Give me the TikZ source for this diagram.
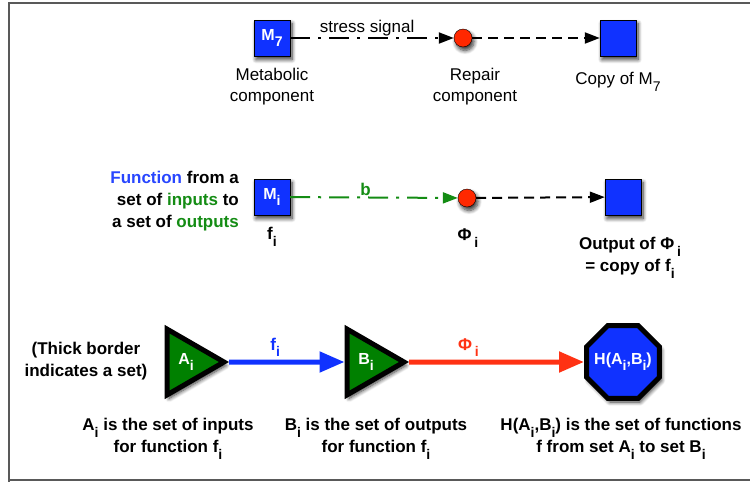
\documentclass[tikz,border=0pt]{standalone}
\usepackage{fontspec}
\setmainfont{Liberation Sans}
\usetikzlibrary{arrows.meta,shapes.geometric,shadows.blur,positioning}
\definecolor{compblue}{RGB}{16,50,255}
\definecolor{textblue}{RGB}{40,70,255}
\definecolor{repairred}{RGB}{255,40,0}
\definecolor{arrowred}{RGB}{255,50,20}
\definecolor{setgreen}{RGB}{0,128,0}
\definecolor{textgreen}{RGB}{20,140,20}
\definecolor{framegray}{gray}{0.35}
\newcommand{\lowsub}[1]{\raisebox{-0.38em}{\fontsize{14}{14}\selectfont #1}}
\tikzset{
  shade/.style={blur shadow={shadow blur steps=8,shadow blur radius=4pt,shadow xshift=2pt,shadow yshift=-3.5pt,shadow opacity=80}},
  comp/.style={draw=black,fill=compblue,minimum size=36pt,inner sep=0pt,text=white,
    font=\bfseries\fontsize{16}{16}\selectfont,shade},
  repair/.style={circle,draw=black,fill=repairred,minimum size=18pt,inner sep=0pt,shade},
  setnode/.style={regular polygon,regular polygon sides=3,shape border rotate=-90,
    draw=black,line width=5pt,fill=setgreen,minimum size=76pt,inner sep=0pt,text=white,
    font=\bfseries\fontsize{16}{16}\selectfont,shade},
  funcset/.style={regular polygon,regular polygon sides=8,draw=black,line width=5pt,
    fill=compblue,minimum size=79pt,inner sep=0pt,shade},
  lbl/.style={font=\fontsize{17}{21}\selectfont,align=center,inner sep=1pt},
  blbl/.style={font=\bfseries\fontsize{17}{22}\selectfont,align=center,inner sep=1pt},
  tip/.style={-{Triangle[length=15pt,width=11pt]}},
  sig/.style={tip,line width=2pt,dash pattern=on 20pt off 8pt on 3pt off 8pt},
  copyline/.style={tip,line width=2pt,dash pattern=on 10pt off 6pt},
  maparrow/.style={-{Triangle[length=25pt,width=20pt]},line width=5pt}
}
\begin{document}
\begin{tikzpicture}[x=1pt,y=-1pt]
\useasboundingbox (0,0) rectangle (750,482);
% frame
\draw[framegray,line width=2pt] (750,2.5) -- (8.5,2.5) -- (8.5,482);
\draw[framegray,line width=2pt] (8.5,480) -- (750,480);

% top row
\node[comp] (M7) at (272,38) {M\lowsub{7}};
\node[repair] (R7) at (463,38) {};
\node[comp] (C7) at (618,38) {};
\draw[sig] (M7) -- node[lbl,above,pos=0.47] {stress signal} (R7);
\draw[copyline] (R7) -- (C7);
\node[lbl] at (272,87) {Metabolic\\component};
\node[lbl] at (475,87) {Repair\\component};
\node[lbl] at (618,82) {Copy of M\lowsub{7}};

% middle row
\node[comp] (Mi) at (272,197) {M\lowsub{i}};
\node[repair] (Ri) at (467,198) {};
\node[comp] (Ci) at (623,197) {};
\draw[sig,textgreen] (Mi) -- node[blbl,above,pos=0.45] {b} (Ri);
\draw[copyline] (Ri) -- (Ci);
\node[blbl,align=right,anchor=east] at (240,201)
  {\textcolor{textblue}{Function} from a\\set of \textcolor{textgreen}{inputs} to\\a set of \textcolor{textgreen}{outputs}};
\node[blbl] at (272,237) {f\lowsub{i}};
\node[blbl] at (468,238) {Φ\,\lowsub{i}};
\node[blbl] at (630,258) {Output of Φ\,\lowsub{i}\\= copy of f\lowsub{i}};

% bottom row
\node[setnode] (A) at (186,362) {A\lowsub{i}};
\node[setnode] (B) at (366,362) {B\lowsub{i}};
\node[funcset] (H) at (623,362) {};
\node[font=\bfseries\fontsize{16}{16}\selectfont,text=white] at (H) {H(A\lowsub{i},B\lowsub{i})};
\draw[maparrow,compblue] (A.east) -- node[blbl,above,pos=0.4,text=compblue,inner sep=3pt] {f\lowsub{i}} (B.west);
\draw[maparrow,arrowred] (B.east) -- node[blbl,above,pos=0.34,text=arrowred,inner sep=3pt] {Φ\,\lowsub{i}} (H.west);
\node[blbl] at (86,361) {(Thick border\\indicates a set)};
\node[blbl] at (168,439) {A\lowsub{i} is the set of inputs\\for function f\lowsub{i}};
\node[blbl] at (376,439) {B\lowsub{i} is the set of outputs\\for function f\lowsub{i}};
\node[blbl] at (621,439) {H(A\lowsub{i},B\lowsub{i}) is the set of functions\\f from set A\lowsub{i} to set B\lowsub{i}};
\end{tikzpicture}
\end{document}
